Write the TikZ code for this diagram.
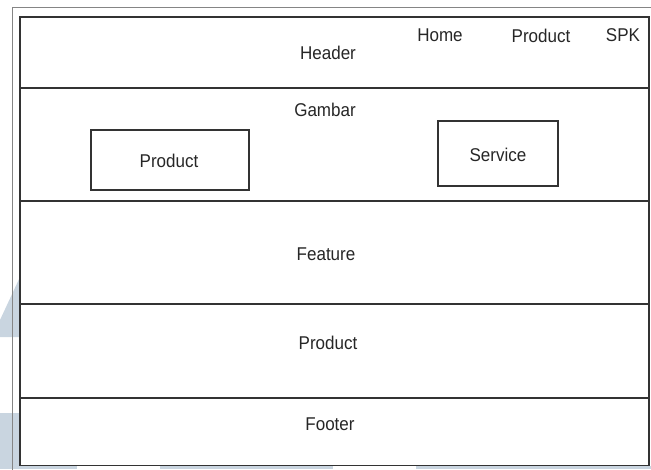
\documentclass[tikz,border=0pt]{standalone}
\usepackage{fontspec}
\setmainfont{Liberation Sans}

\definecolor{garis}{HTML}{333333}
\definecolor{bingkai}{HTML}{858585}
\definecolor{latar}{HTML}{C9D5E0}

\tikzset{
  bagian/.style={draw=garis, line width=1.6pt},
  kotak/.style={draw=garis, line width=1.6pt, inner sep=0pt},
  tulisan/.style={text=black!85, font=\fontsize{18.5}{22}\selectfont, inner sep=0pt,
    xscale=0.92, transform shape}
}

\begin{document}
\begin{tikzpicture}[x=1pt, y=-1pt]
    \useasboundingbox (0, 0) rectangle (651, 469);

    % bayangan di pinggir
    \fill[latar] (20, 277) -- (20, 337) -- (0, 337) -- (0, 320) -- cycle;
    \fill[latar] (0, 413) rectangle (20, 469);
    \fill[latar] (0, 466) rectangle (77, 469);
    \fill[latar] (160, 466) rectangle (333, 469);
    \fill[latar] (416, 466) rectangle (651, 469);

    % bingkai luar
    \draw[bingkai, line width=1pt] (12, 480) -- (12, 7.5) -- (660, 7.5);

    % kotak halaman
    \draw[bagian] (20, 17) rectangle (649, 465.5);

    % garis pembagi
    \draw[bagian] (20, 88) -- (649, 88);
    \draw[bagian] (20, 201) -- (649, 201);
    \draw[bagian] (20, 304) -- (649, 304);
    \draw[bagian] (20, 398) -- (649, 398);

    % kotak di bagian gambar
    \node[kotak, minimum width=158pt, minimum height=60pt] (kProduct) at (170, 160) {};
    \node[kotak, minimum width=120pt, minimum height=65pt] (kService) at (498, 153.5) {};

    % tulisan
    \node[tulisan] (header) at (328, 53) {Header};
    \node[tulisan] (home) at (440, 35) {Home};
    \node[tulisan] (menuProduct) at (541, 36) {Product};
    \node[tulisan] (spk) at (623, 35) {SPK};
    \node[tulisan] (gambar) at (325, 110) {Gambar};
    \node[tulisan] (product) at (169, 161) {Product};
    \node[tulisan] (service) at (498, 155) {Service};
    \node[tulisan] (feature) at (326, 254) {Feature};
    \node[tulisan] (isiProduct) at (328, 343) {Product};
    \node[tulisan] (footer) at (330, 424) {Footer};

  \end{tikzpicture}
\end{document}
